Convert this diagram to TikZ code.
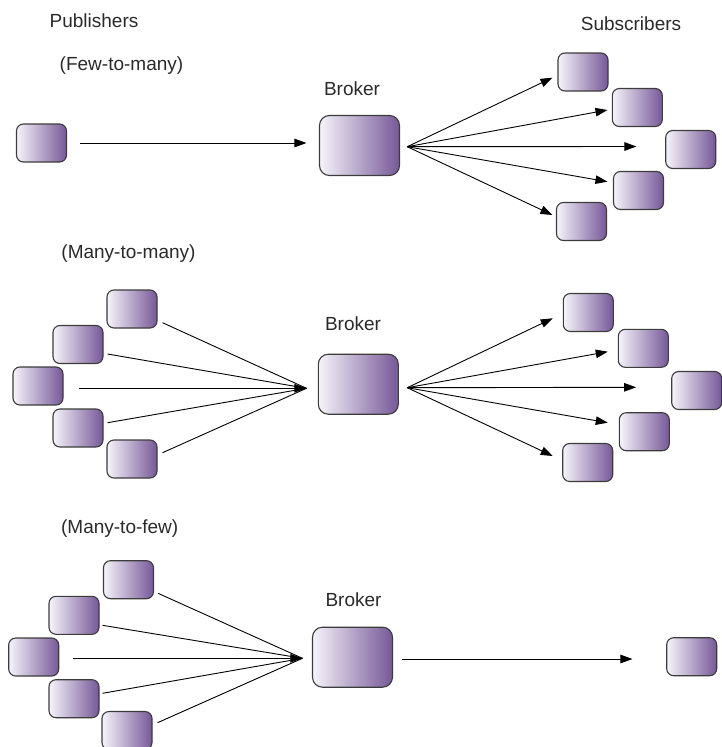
\documentclass[tikz,border=0pt]{standalone}
\usepackage{fontspec}
\setmainfont{Liberation Sans}
\usetikzlibrary{arrows.meta,calc}
\definecolor{pl}{HTML}{F6F4FA}
\definecolor{pr}{HTML}{765898}
\definecolor{edgec}{HTML}{3C3C3C}
\definecolor{txt}{HTML}{2A2A2A}
\begin{document}
\begin{tikzpicture}[x=1pt,y=-1pt,
 pbox/.style={rectangle,rounded corners=7pt,minimum width=50pt,minimum height=38pt,inner sep=0pt,draw=edgec,line width=1.1pt,left color=pl,right color=pr},
 bbox/.style={pbox,minimum width=80pt,minimum height=60pt,rounded corners=10pt},
 lab/.style={font=\fontsize{19}{22}\selectfont,text=txt,inner sep=0pt,anchor=base},
 conn/.style={line width=0.9pt,black},
 arr/.style={conn,-{Triangle[length=12pt,width=8.5pt]}}
]
\useasboundingbox (0,0) rectangle (722,747);

% ---------- labels ----------
\node[lab] (lpub) at (94,27) {Publishers};
\node[lab] (lsub) at (631,30) {Subscribers};
\node[lab] (lfm) at (121.5,70) {(Few-to-many)};
\node[lab] (lmm) at (128.5,258.3) {(Many-to-many)};
\node[lab] (lmf) at (119.7,533.3) {(Many-to-few)};
\node[lab] (lbA) at (352,95) {Broker};
\node[lab] (lbB) at (353,330.7) {Broker};
\node[lab] (lbC) at (353.5,606.7) {Broker};

% ---------- section A : few-to-many ----------
\node[pbox] (pA) at (41.5,143) {};
\node[bbox] (bA) at (359.5,145.5) {};
\node[pbox] (sA1) at (583,72) {};
\node[pbox] (sA2) at (637.3,107.5) {};
\node[pbox] (sA3) at (690.7,149.5) {};
\node[pbox] (sA4) at (638.5,190.5) {};
\node[pbox] (sA5) at (581.5,221.5) {};

\draw[arr] ([shift={(12.5,0)}]pA.east) -- ([shift={(-12.5,-2.5)}]bA.west);
\coordinate (oA) at ([shift={(7.2,1.2)}]bA.east);
\draw[arr] (oA) -- ([shift={(-5,5.7)}]sA1.west);
\draw[arr] (oA) -- ([shift={(-4.3,2.5)}]sA2.west);
\draw[arr] (oA) -- ([shift={(-28.7,-3)}]sA3.west);
\draw[arr] (oA) -- ([shift={(-5.5,-8.8)}]sA4.west);
\draw[arr] (oA) -- ([shift={(-3.5,-6.5)}]sA5.west);

% ---------- section B : many-to-many ----------
\node[pbox] (pB1) at (132,309) {};
\node[pbox] (pB2) at (78,344.5) {};
\node[pbox] (pB3) at (38,386) {};
\node[pbox] (pB4) at (78,428) {};
\node[pbox] (pB5) at (132,459) {};
\node[bbox] (bB) at (358.3,384.2) {};
\node[pbox] (sB1) at (588.3,312.5) {};
\node[pbox] (sB2) at (643.3,348.3) {};
\node[pbox] (sB3) at (696.7,390.5) {};
\node[pbox] (sB4) at (644.3,431.7) {};
\node[pbox] (sB5) at (587.7,462.5) {};

\coordinate (iB) at ([shift={(-11.3,4.1)}]bB.west);
\draw[conn] ([shift={(5,13.7)}]pB1.east) -- (iB);
\draw[conn] ([shift={(4,9.5)}]pB2.east) -- (iB);
\draw[conn] ([shift={(4,-5.3)}]pB4.east) -- (iB);
\draw[conn] ([shift={(5,-6.3)}]pB5.east) -- (iB);
\draw[arr] ([shift={(15,2.3)}]pB3.east) -- (iB);

\coordinate (oB) at ([shift={(8.4,3.5)}]bB.east);
\draw[arr] (oB) -- ([shift={(-10,5.8)}]sB1.west);
\draw[arr] (oB) -- ([shift={(-10,3.4)}]sB2.west);
\draw[arr] (oB) -- ([shift={(-35,-3.2)}]sB3.west);
\draw[arr] (oB) -- ([shift={(-11,-9)}]sB4.west);
\draw[arr] (oB) -- ([shift={(-9.4,-6.5)}]sB5.west);

% ---------- section C : many-to-few ----------
\node[pbox] (pC1) at (128.5,579.7) {};
\node[pbox] (pC2) at (74,615.3) {};
\node[pbox] (pC3) at (33.7,657) {};
\node[pbox] (pC4) at (74,698.7) {};
\node[pbox] (pC5) at (127,730.5) {};
\node[bbox] (bC) at (352.5,657.2) {};
\node[pbox] (sC) at (691.7,656.7) {};

\coordinate (iC) at ([shift={(-9.5,1.1)}]bC.west);
\draw[conn] ([shift={(4,13.6)}]pC1.east) -- (iC);
\draw[conn] ([shift={(3,10)}]pC2.east) -- (iC);
\draw[conn] ([shift={(3,-5.4)}]pC4.east) -- (iC);
\draw[conn] ([shift={(5,-7.8)}]pC5.east) -- (iC);
\draw[arr] ([shift={(14,1.3)}]pC3.east) -- (iC);

\draw[arr] ([shift={(9.2,1.8)}]bC.east) -- ([shift={(-33.7,2.3)}]sC.west);
\end{tikzpicture}
\end{document}
